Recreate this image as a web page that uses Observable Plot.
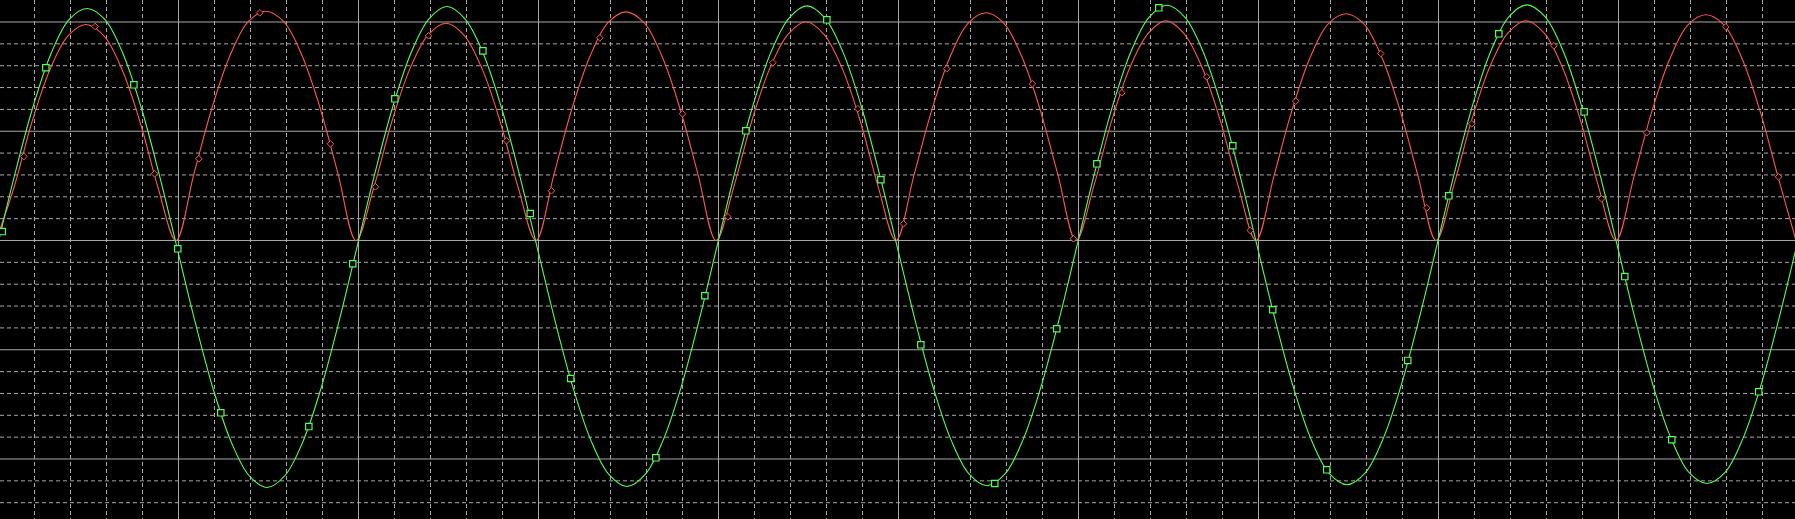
<!DOCTYPE html>
<html><head><meta charset="utf-8">
<script src="https://cdn.jsdelivr.net/npm/d3@7"></script>
<script src="https://cdn.jsdelivr.net/npm/@observablehq/plot@0.6"></script>
<style>html,body{margin:0;padding:0;background:#000;overflow:hidden}</style>
</head><body><div id="chart"></div>
<script>
// time axis in screen divisions (10 major divisions across)
const time = [0,0.1,0.2,0.3,0.4,0.5,0.6,0.7,0.8,0.9,
  1,1.1,1.2,1.3,1.4,1.5,1.6,1.7,1.8,1.9,
  2,2.1,2.2,2.3,2.4,2.5,2.6,2.7,2.8,2.9,
  3,3.1,3.2,3.3,3.4,3.5,3.6,3.7,3.8,3.9,
  4,4.1,4.2,4.3,4.4,4.5,4.6,4.7,4.8,4.9,
  5,5.1,5.2,5.3,5.4,5.5,5.6,5.7,5.8,5.9,
  6,6.1,6.2,6.3,6.4,6.5,6.6,6.7,6.8,6.9,
  7,7.1,7.2,7.3,7.4,7.5,7.6,7.7,7.8,7.9,
  8,8.1,8.2,8.3,8.4,8.5,8.6,8.7,8.8,8.9,
  9,9.1,9.2,9.3,9.4,9.5,9.6,9.7,9.8,9.9,10];

// green trace (divisions)
const green = [-0.068,0.612,1.224,1.710,2.022,2.124,2.022,1.710,1.224,0.612,
  -0.065,-0.741,-1.353,-1.839,-2.151,-2.261,-2.151,-1.839,-1.353,-0.741,
  -0.061,0.619,1.231,1.717,2.029,2.142,2.029,1.717,1.231,0.619,
  -0.058,-0.734,-1.346,-1.832,-2.144,-2.252,-2.144,-1.832,-1.346,-0.734,
  -0.054,0.626,1.238,1.724,2.036,2.148,2.036,1.724,1.238,0.626,
  -0.051,-0.727,-1.339,-1.825,-2.137,-2.245,-2.137,-1.825,-1.339,-0.727,
  -0.048,0.632,1.244,1.730,2.042,2.154,2.042,1.730,1.244,0.632,
  -0.044,-0.720,-1.332,-1.818,-2.130,-2.236,-2.130,-1.818,-1.332,-0.720,
  -0.041,0.639,1.251,1.737,2.049,2.157,2.049,1.737,1.251,0.639,
  -0.037,-0.713,-1.325,-1.811,-2.123,-2.224,-2.123,-1.811,-1.325,-0.713,-0.034];

// red (rectified) trace (divisions)
const red = [0,0.485,1.087,1.566,1.873,1.977,1.873,1.566,1.087,0.485,
  0,0.612,1.215,1.693,2.001,2.099,2.001,1.693,1.215,0.612,
  0,0.492,1.094,1.573,1.880,1.989,1.880,1.573,1.094,0.492,
  0,0.605,1.208,1.686,1.994,2.093,1.994,1.686,1.208,0.605,
  0,0.498,1.101,1.580,1.887,2.002,1.887,1.580,1.101,0.498,
  0,0.598,1.201,1.679,1.987,2.084,1.987,1.679,1.201,0.598,
  0,0.504,1.107,1.586,1.893,2.011,1.893,1.586,1.107,0.504,
  0,0.591,1.194,1.673,1.980,2.075,1.980,1.673,1.194,0.591,
  0,0.511,1.114,1.593,1.900,2.011,1.900,1.593,1.114,0.511,
  0,0.584,1.187,1.666,1.973,2.066,1.973,1.666,1.187,0.584,0];

// green square markers
const greenMarkX = [0.021,0.263,0.752,0.996,1.235,1.724,1.968,2.202,2.691,2.954,3.179,3.652,3.924,4.152,4.602,4.902,5.124,5.535,5.879,6.102,6.446,6.857,7.079,7.379,7.829,8.057,8.335,8.809,9.035,9.296,9.779];
const greenMarkY = [0.082,1.581,1.425,-0.076,-1.577,-1.703,-0.213,1.297,1.736,0.247,-1.263,-1.989,-0.506,1.004,2.020,0.556,-0.955,-2.224,-0.808,0.702,2.130,0.867,-0.634,-2.099,-1.098,0.409,1.892,1.178,-0.330,-1.824,-1.385];

// red diamond markers
const redMarkX = [0.141,0.537,0.867,1.113,1.452,1.844,2.094,2.389,2.822,3.072,3.341,3.800,4.052,4.302,4.774,5.028,5.268,5.744,5.972,6.241,6.713,6.954,7.207,7.679,7.935,8.185,8.641,8.906,9.157,9.596,9.889];
const redMarkY = [0.769,1.959,0.611,0.748,2.084,0.885,0.492,1.874,0.913,0.455,1.855,1.160,0.217,1.627,1.206,0.153,1.572,1.434,0.016,1.352,1.498,0.092,1.275,1.712,0.299,1.068,1.782,0.382,0.986,1.956,0.583];

// graticule
const majorX = [1,2,3,4,5,6,7,8,9];
const minorX = [0.2,0.4,0.6,0.8,1.2,1.4,1.6,1.8,2.2,2.4,2.6,2.8,3.2,3.4,3.6,3.8,4.2,4.4,4.6,4.8,5.2,5.4,5.6,5.8,6.2,6.4,6.6,6.8,7.2,7.4,7.6,7.8,8.2,8.4,8.6,8.8,9.2,9.4,9.6,9.8];
const majorY = [-2,-1,0,1,2];
const minorY = [-2.4,-2.2,-1.8,-1.6,-1.4,-1.2,-0.8,-0.6,-0.4,-0.2,0.2,0.4,0.6,0.8,1.2,1.4,1.6,1.8];

const lineData = time.map((t, i) => ({t, g: green[i], r: red[i]}));
const gm = greenMarkX.map((x, i) => ({x, y: greenMarkY[i]}));
const rm = redMarkX.map((x, i) => ({x, y: redMarkY[i]}));

const GREEN = "#55ff55", RED = "#ff5555", GRID = "#a8a8a8";

const chart = Plot.plot({
  width: 1795, height: 519, margin: 0,
  x: {domain: [0, 10], range: [-2, 1798], axis: null},
  y: {domain: [-2.5538, 2.1968], axis: null},
  style: {background: "#000", overflow: "hidden"},
  marks: [
    Plot.ruleX(minorX, {stroke: GRID, strokeDasharray: "4,3"}),
    Plot.ruleY(minorY, {stroke: GRID, strokeDasharray: "4,3"}),
    Plot.ruleX(majorX, {stroke: GRID}),
    Plot.ruleY(majorY, {stroke: GRID}),
    Plot.line(lineData, {x: "t", y: "r", stroke: RED, strokeWidth: 1.1, curve: "catmull-rom", dx: -2.5}),
    Plot.line(lineData, {x: "t", y: "g", stroke: GREEN, strokeWidth: 1.1, curve: "catmull-rom", dx: -1.5}),
    Plot.dot(rm, {x: "x", y: "y", symbol: "diamond2", r: 3, stroke: RED, fill: "#000", strokeWidth: 1}),
    Plot.dot(gm, {x: "x", y: "y", symbol: "square", r: 3.6, stroke: GREEN, fill: "#000", strokeWidth: 1.2})
  ]
});
document.getElementById("chart").appendChild(chart);
</script>
</body></html>
